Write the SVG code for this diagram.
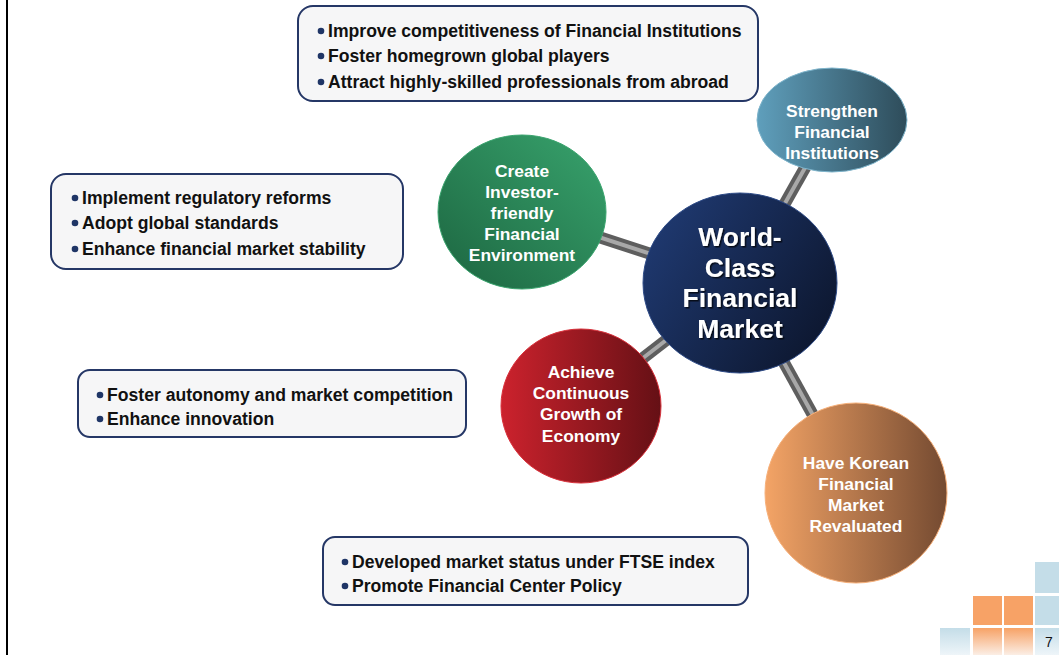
<svg xmlns="http://www.w3.org/2000/svg" width="1059" height="655" viewBox="0 0 1059 655">
<defs>
<style>
.box{fill:#f6f6f7;stroke:#253766;stroke-width:2}
.bt{font-family:"Liberation Sans",Arial,sans-serif;font-weight:bold;font-size:17.6px;fill:#111}
.bul{fill:#1f3566}
.ct{font-family:"Liberation Sans",Arial,sans-serif;font-weight:bold;font-size:17.4px;fill:#fff;text-anchor:middle}
.big{font-family:"Liberation Sans",Arial,sans-serif;font-weight:bold;font-size:26.5px;fill:#fff;text-anchor:middle}
.bar{stroke:#5e5e5e;stroke-width:12;stroke-linecap:butt}
.barh{stroke:#a8a8a8;stroke-width:4;stroke-linecap:butt}
</style>
<linearGradient id="gGreen" x1="0" y1="1" x2="1" y2="0"><stop offset="0" stop-color="#1c6540"/><stop offset="1" stop-color="#38a36d"/></linearGradient>
<linearGradient id="gNavy" x1="0" y1="0" x2="1" y2="0.6"><stop offset="0" stop-color="#213d78"/><stop offset="1" stop-color="#0e1933"/></linearGradient>
<linearGradient id="gSteel" x1="0" y1="0" x2="1" y2="0"><stop offset="0" stop-color="#5f9fbc"/><stop offset="1" stop-color="#2e4c5a"/></linearGradient>
<linearGradient id="gRed" x1="0" y1="0" x2="1" y2="0"><stop offset="0" stop-color="#cc222d"/><stop offset="1" stop-color="#651015"/></linearGradient>
<linearGradient id="gOrange" x1="0" y1="0" x2="1" y2="0"><stop offset="0" stop-color="#f4a466"/><stop offset="1" stop-color="#744a31"/></linearGradient>
<linearGradient id="fadeBlue" x1="0" y1="0" x2="0" y2="1"><stop offset="0" stop-color="#c4dde8"/><stop offset="1" stop-color="#eef5f9"/></linearGradient>
<linearGradient id="fadeOrange" x1="0" y1="0" x2="0" y2="1"><stop offset="0" stop-color="#f7a266"/><stop offset="1" stop-color="#fbeee5"/></linearGradient>
<filter id="sh" x="-10%" y="-10%" width="130%" height="130%"><feDropShadow dx="1.5" dy="1.5" stdDeviation="0.6" flood-color="#000" flood-opacity="0.7"/></filter>
</defs>
<rect width="1059" height="655" fill="#fff"/>
<line x1="7" y1="0" x2="7" y2="655" stroke="#000" stroke-width="2"/>

<g id="connectors">
<line class="bar" x1="740" y1="283" x2="522" y2="212"/>
<line class="barh" x1="740" y1="283" x2="522" y2="212"/>
<line class="bar" x1="740" y1="283" x2="832" y2="120"/>
<line class="barh" x1="740" y1="283" x2="832" y2="120"/>
<line class="bar" x1="740" y1="283" x2="581" y2="406"/>
<line class="barh" x1="740" y1="283" x2="581" y2="406"/>
<line class="bar" x1="740" y1="283" x2="856" y2="493"/>
<line class="barh" x1="740" y1="283" x2="856" y2="493"/>
</g>

<g id="box-top">
<rect class="box" x="298" y="6" width="460" height="95" rx="15"/>
<circle class="bul" cx="321" cy="31" r="3.3"/><text class="bt" x="328" y="37">Improve competitiveness of Financial Institutions</text>
<circle class="bul" cx="321" cy="56" r="3.3"/><text class="bt" x="328" y="62">Foster homegrown global players</text>
<circle class="bul" cx="321" cy="82" r="3.3"/><text class="bt" x="328" y="88">Attract highly-skilled professionals from abroad</text>
</g>

<g id="box-left1">
<rect class="box" x="51" y="174" width="352" height="95" rx="15"/>
<circle class="bul" cx="75" cy="198" r="3.3"/><text class="bt" x="82" y="204">Implement regulatory reforms</text>
<circle class="bul" cx="75" cy="223" r="3.3"/><text class="bt" x="82" y="229">Adopt global standards</text>
<circle class="bul" cx="75" cy="249" r="3.3"/><text class="bt" x="82" y="255">Enhance financial market stability</text>
</g>

<g id="box-left2">
<rect class="box" x="78" y="370" width="388" height="67" rx="12"/>
<circle class="bul" cx="100" cy="395" r="3.3"/><text class="bt" x="107" y="401">Foster autonomy and market competition</text>
<circle class="bul" cx="100" cy="419" r="3.3"/><text class="bt" x="107" y="425">Enhance innovation</text>
</g>

<g id="box-bottom">
<rect class="box" x="323" y="537" width="425" height="68" rx="12"/>
<circle class="bul" cx="345" cy="562" r="3.3"/><text class="bt" x="352" y="568">Developed market status under FTSE index</text>
<circle class="bul" cx="345" cy="586" r="3.3"/><text class="bt" x="352" y="592">Promote Financial Center Policy</text>
</g>

<g id="node-green">
<ellipse cx="522" cy="212" rx="84" ry="77" fill="url(#gGreen)" stroke="#3aa46e" stroke-width="1"/>
<text class="ct" x="522" y="177">Create</text>
<text class="ct" x="522" y="198">Investor-</text>
<text class="ct" x="522" y="219">friendly</text>
<text class="ct" x="522" y="240">Financial</text>
<text class="ct" x="522" y="261">Environment</text>
</g>

<g id="node-steel">
<ellipse cx="832" cy="120" rx="75" ry="52" fill="url(#gSteel)" stroke="#7fb5cc" stroke-width="1"/>
<text class="ct" x="832" y="117">Strengthen</text>
<text class="ct" x="832" y="138">Financial</text>
<text class="ct" x="832" y="159">Institutions</text>
</g>

<g id="node-red">
<ellipse cx="581" cy="406" rx="80" ry="77" fill="url(#gRed)" stroke="#d8303a" stroke-width="1"/>
<text class="ct" x="581" y="378">Achieve</text>
<text class="ct" x="581" y="399">Continuous</text>
<text class="ct" x="581" y="420">Growth of</text>
<text class="ct" x="581" y="442">Economy</text>
</g>

<g id="node-orange">
<ellipse cx="856" cy="493" rx="91" ry="90" fill="url(#gOrange)" stroke="#f6b07a" stroke-width="1"/>
<text class="ct" x="856" y="469">Have Korean</text>
<text class="ct" x="856" y="490">Financial</text>
<text class="ct" x="856" y="511">Market</text>
<text class="ct" x="856" y="532">Revaluated</text>
</g>

<g id="node-center">
<ellipse cx="740" cy="283" rx="97" ry="90" fill="url(#gNavy)" stroke="#2d4a86" stroke-width="1"/>
<g filter="url(#sh)">
<text class="big" x="740" y="246">World-</text>
<text class="big" x="740" y="277">Class</text>
<text class="big" x="740" y="307">Financial</text>
<text class="big" x="740" y="338">Market</text>
</g>
</g>

<g id="page-decoration">
<rect x="1035" y="562" width="24" height="31" fill="#c4dde8"/>
<rect x="973" y="596" width="29" height="29" fill="#f7a266"/>
<rect x="1004" y="596" width="29" height="29" fill="#f7a266"/>
<rect x="1035" y="596" width="24" height="29" fill="#c4dde8"/>
<rect x="940" y="628" width="30" height="27" fill="url(#fadeBlue)"/>
<rect x="973" y="628" width="29" height="27" fill="url(#fadeOrange)"/>
<rect x="1004" y="628" width="29" height="27" fill="url(#fadeOrange)"/>
<rect x="1035" y="628" width="24" height="27" fill="url(#fadeBlue)"/>
<text x="1049" y="647" font-family="Liberation Sans, Arial, sans-serif" font-size="14" fill="#111" text-anchor="middle">7</text>
</g>
</svg>
